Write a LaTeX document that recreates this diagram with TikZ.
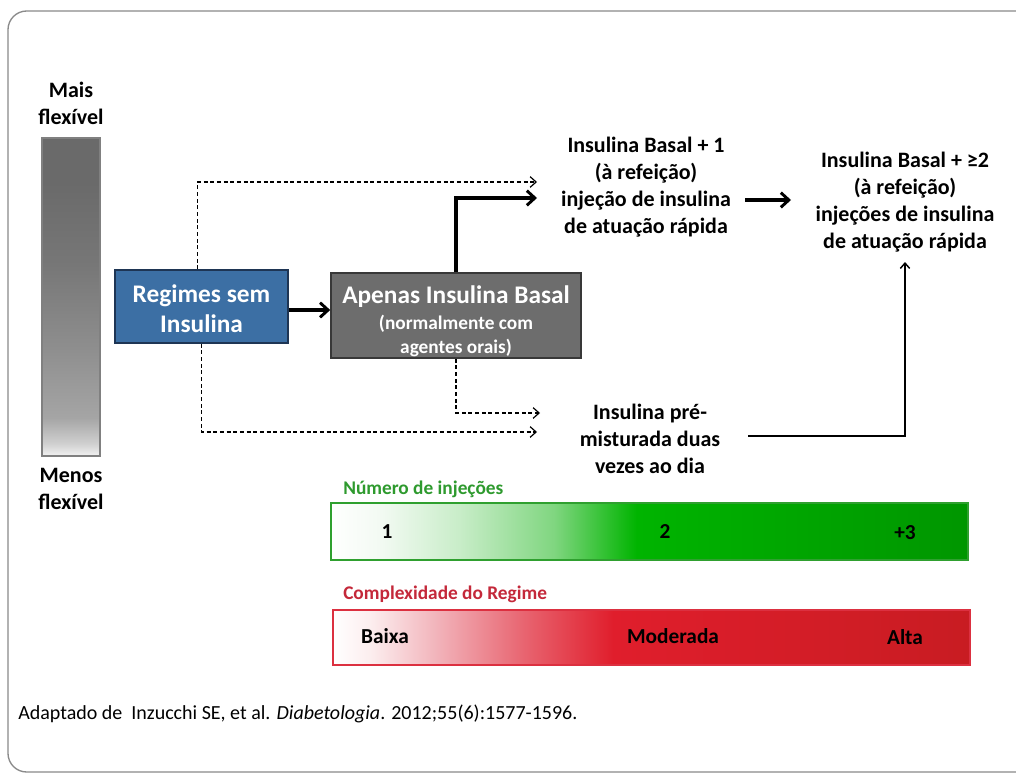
\documentclass[tikz,border=0pt]{standalone}
\usepackage{fontspec}
\setmainfont{Carlito}
\usetikzlibrary{arrows.meta,calc}
\definecolor{boxblue}{HTML}{3C6FA4}
\definecolor{boxblueb}{HTML}{1E3554}
\definecolor{boxgrey}{HTML}{6D6D6D}
\definecolor{boxgreyb}{HTML}{383838}
\definecolor{lblgreen}{HTML}{2E9A2E}
\definecolor{lblred}{HTML}{C4283A}
\definecolor{bargreenb}{HTML}{2FA02F}
\definecolor{barredb}{HTML}{DC3040}
\definecolor{framec}{HTML}{8A8A8A}
\definecolor{g1}{HTML}{F2FAF2}
\definecolor{g2}{HTML}{C9EDC9}
\definecolor{g3}{HTML}{80D680}
\definecolor{g4}{HTML}{00B400}
\definecolor{g5}{HTML}{009600}
\definecolor{r1}{HTML}{FCEDEE}
\definecolor{r2}{HTML}{F2B5BC}
\definecolor{r3}{HTML}{E86470}
\definecolor{r4}{HTML}{E01E2C}
\definecolor{r5}{HTML}{C81C22}
\definecolor{k1}{HTML}{F2F2F2}
\definecolor{k2}{HTML}{CFCFCF}
\definecolor{k3}{HTML}{A5A5A5}
\definecolor{k4}{HTML}{8E8E8E}
\definecolor{k5}{HTML}{777777}
\definecolor{k6}{HTML}{6A6A6A}
\pgfdeclareverticalshading{greybar}{100bp}{color(0bp)=(k1); color(25bp)=(k1); color(27bp)=(k2); color(31bp)=(k3); color(42bp)=(k4); color(55bp)=(k5); color(68bp)=(k6); color(100bp)=(k6)}
\pgfdeclarehorizontalshading{greenbar}{100bp}{color(0bp)=(white); color(25bp)=(white); color(29bp)=(g1); color(35bp)=(g2); color(42.5bp)=(g3); color(49bp)=(g4); color(75bp)=(g5); color(100bp)=(g5)}
\pgfdeclarehorizontalshading{redbar}{100bp}{color(0bp)=(white); color(25bp)=(white); color(28bp)=(r1); color(33bp)=(r2); color(40bp)=(r3); color(47bp)=(r4); color(75bp)=(r5); color(100bp)=(r5)}
\begin{document}
\begin{tikzpicture}[x=0.75pt,y=-0.75pt,
  lbl/.style={font=\fontsize{16.5}{20.25}\selectfont\bfseries, align=center, inner sep=0pt},
  boxtxt/.style={font=\fontsize{19}{22.5}\selectfont\bfseries, text=white, align=center, inner sep=0pt},
  thickarrow/.style={line width=2.4pt, -{Straight Barb[length=6pt,width=11pt,line width=2.2pt]}},
  dasharrow/.style={line width=0.9pt, dash pattern=on 3pt off 2pt, -{Straight Barb[length=4.5pt,width=8pt,line width=0.9pt]}},
  thinarrow/.style={line width=1.1pt, -{Straight Barb[length=4pt,width=7pt,line width=1.1pt]}},
  barlbl/.style={font=\fontsize{14.5}{17}\selectfont\bfseries, anchor=base west, inner sep=0pt},
  inbar/.style={font=\fontsize{16}{18}\selectfont\bfseries, anchor=base, inner sep=0pt}]
\useasboundingbox (0,0) rectangle (1016,774);
\fill[white] (0,0) rectangle (1016,774);
\draw[framec, line width=1pt, rounded corners=14pt] (8,11) rectangle (1040,772);

% flexibility bar
\shade[shading=greybar] (42,138) rectangle (100,456);
\draw[white!50!black, line width=1.2pt] (42,138) rectangle (100,456);
\node[lbl] (mais) at (71,103) {Mais\\flexível};
\node[lbl] (menos) at (71,489) {Menos\\flexível};

% boxes
\node[draw=boxblueb, fill=boxblue, line width=1.2pt, minimum width=129.75pt, minimum height=54.75pt, boxtxt] (rsi) at (201.5,306.5) {\rule{0pt}{16pt}Regimes sem\\Insulina};
\node[draw=boxgreyb, fill=boxgrey, line width=1.2pt, minimum width=187.5pt, minimum height=63.75pt, inner sep=0pt, text=white, align=center,
  font=\fontsize{14.5}{18}\selectfont\bfseries] (aib) at (456,315.5)
  {\rule{0pt}{22pt}{\fontsize{19}{20}\selectfont Apenas Insulina Basal}\\[1pt]
   (normalmente com\\
   agentes orais)};

% text nodes
\node[lbl] (b1) at (646,187) {Insulina Basal + 1\\(à refeição)\\injeção de insulina\\de atuação rápida};
\node[lbl] (b2) at (905,202) {Insulina Basal + ≥2\\(à refeição)\\injeções de insulina\\de atuação rápida};
\node[lbl] (pm) at (650,439) {Insulina pré-\\misturada duas\\vezes ao dia};

% arrow end coordinates
\coordinate (b1top) at (537,182);
\coordinate (b1mid) at (537,198);
\coordinate (pmtop) at (540,413);
\coordinate (pmmid) at (537,432);
\coordinate (b1out) at (745,200);
\coordinate (b2in) at (791,200);
\coordinate (pmout) at (748,436);
\coordinate (b2bot) at (905,262);

% connectors
\draw[thickarrow] (rsi.east |- 0,310) -- (aib.west |- 0,310);
\draw[thickarrow] (aib.north) |- (b1mid);
\draw[dasharrow] ($(rsi.north)+(-4,0)$) |- (b1top);
\draw[dasharrow] (rsi.south) |- (pmmid);
\draw[dasharrow] (aib.south) |- (pmtop);
\draw[thickarrow] (b1out) -- (b2in);
\draw[thinarrow] (pmout) -| (b2bot);

% number of injections bar
\node[barlbl, text=lblgreen] (ninj) at (343,494) {Número de injeções};
\shade[shading=greenbar] (331,503) rectangle (968,560);
\draw[bargreenb, line width=1.3pt] (331,503) rectangle (968,560);
\node[inbar] (n1) at (387,538) {1};
\node[inbar] (n2) at (665,538) {2};
\node[inbar] (n3) at (905,539) {+3};

% complexity bar
\node[barlbl, text=lblred] (cplx) at (343,599) {Complexidade do Regime};
\shade[shading=redbar] (333,610) rectangle (970,665);
\draw[barredb, line width=1.3pt] (333,610) rectangle (970,665);
\node[inbar] (c1) at (385,643) {Baixa};
\node[inbar] (c2) at (673,643) {Moderada};
\node[inbar] (c3) at (905,644) {Alta};

% citation
\node[font=\fontsize{15}{17}\selectfont, anchor=base west, inner sep=0pt] (cite) at (18,719)
  {Adaptado de\ \ Inzucchi SE, et al. \textit{Diabetologia}. 2012;55(6):1577-1596.};
\end{tikzpicture}
\end{document}
